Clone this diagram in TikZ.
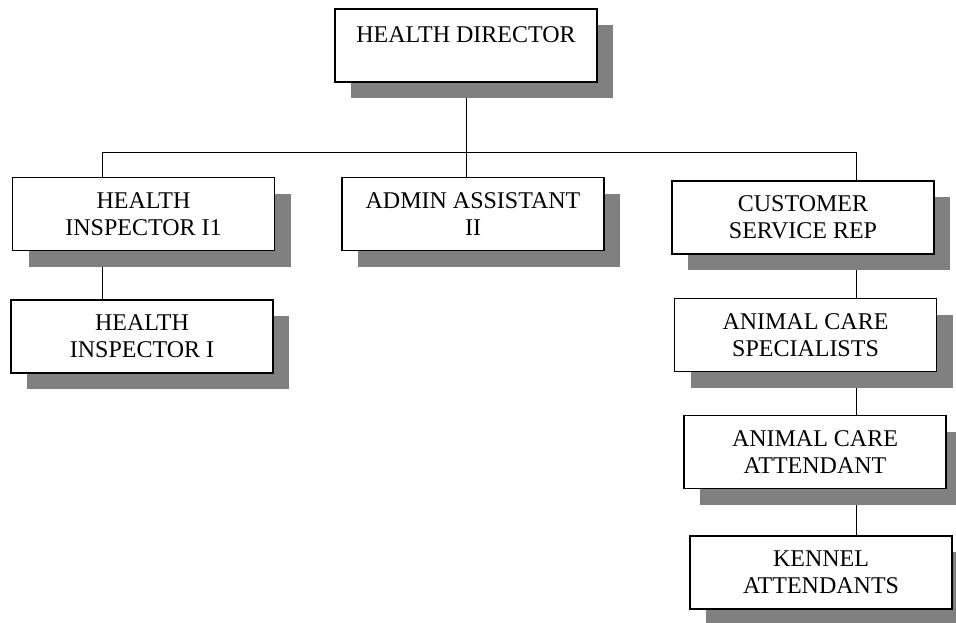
\documentclass[tikz,border=0pt]{standalone}
\usepackage{fontspec}
\setmainfont{Liberation Serif}
\usetikzlibrary{shadows,backgrounds}

\tikzset{
  post/.style={draw, line width=1.4pt, fill=white, minimum width=262pt, minimum height=73pt,
    inner sep=0pt, align=center, font=\fontsize{24}{27}\selectfont,
    drop shadow={shadow xshift=16pt, shadow yshift=-16pt, fill=black!50, opacity=1}},
  link/.style={line width=1pt}
}

\begin{document}
\begin{tikzpicture}[x=1pt, y=-1pt]
\useasboundingbox (0,0) rectangle (956,622);

% Top of the chart
\node[post] (dir) at (466,45.5) {HEALTH DIRECTOR\\[-6pt]\mbox{}};

% Second row
\node[post] (insp2) at (143.5,214) {HEALTH\\INSPECTOR I1};
\node[post] (admin) at (473,214) {ADMIN ASSISTANT\\II};
\node[post] (csr) at (803,217.5) {CUSTOMER\\SERVICE REP};

% Left branch
\node[post] (insp1) at (142,336.5) {HEALTH\\INSPECTOR I};

% Right branch
\node[post] (acs) at (805.5,335) {ANIMAL CARE\\SPECIALISTS};
\node[post] (aca) at (815,452) {ANIMAL CARE\\ATTENDANT};
\node[post] (kennel) at (821,572.5) {KENNEL\\ATTENDANTS};

% Bus line
\coordinate (busL) at (102,152);
\coordinate (busR) at (856,152);

\begin{scope}[on background layer]
\draw[link] (busL) -- (busR);
\draw[link] (dir.south) -- (dir.south |- admin.north);
\draw[link] (busL) -- (busL |- insp2.north);
\draw[link] (insp2.south -| busL) -- (insp1.north -| busL);
\draw[link] (busR) -- (busR |- csr.north);
\draw[link] (csr.south -| busR) -- (acs.north -| busR);
\draw[link] (acs.south -| busR) -- (aca.north -| busR);
\draw[link] (aca.south -| busR) -- (kennel.north -| busR);
\end{scope}

\end{tikzpicture}
\end{document}
